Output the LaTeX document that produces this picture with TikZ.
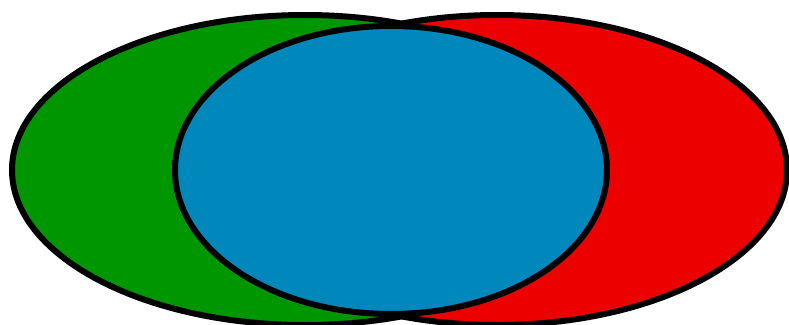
\documentclass[tikz,border=0pt]{standalone}
\definecolor{vgreen}{RGB}{0,150,0}
\definecolor{vred}{RGB}{236,0,0}
\definecolor{vblue}{RGB}{0,136,188}
\begin{document}
\begin{tikzpicture}[x=1pt,y=-1pt,
  setshape/.style={line width=6pt,draw=black}]
\useasboundingbox (0,0) rectangle (789,324);
\clip (0,0) rectangle (789,324);
\fill[white] (0,0) rectangle (789,324);
\path[setshape,fill=vgreen] (305,170) ellipse [x radius=293, y radius=155];
\path[setshape,fill=vred] (497,170) ellipse [x radius=290, y radius=155];
\path[setshape,fill=vblue] (391,170) ellipse [x radius=216, y radius=144];
\end{tikzpicture}
\end{document}
